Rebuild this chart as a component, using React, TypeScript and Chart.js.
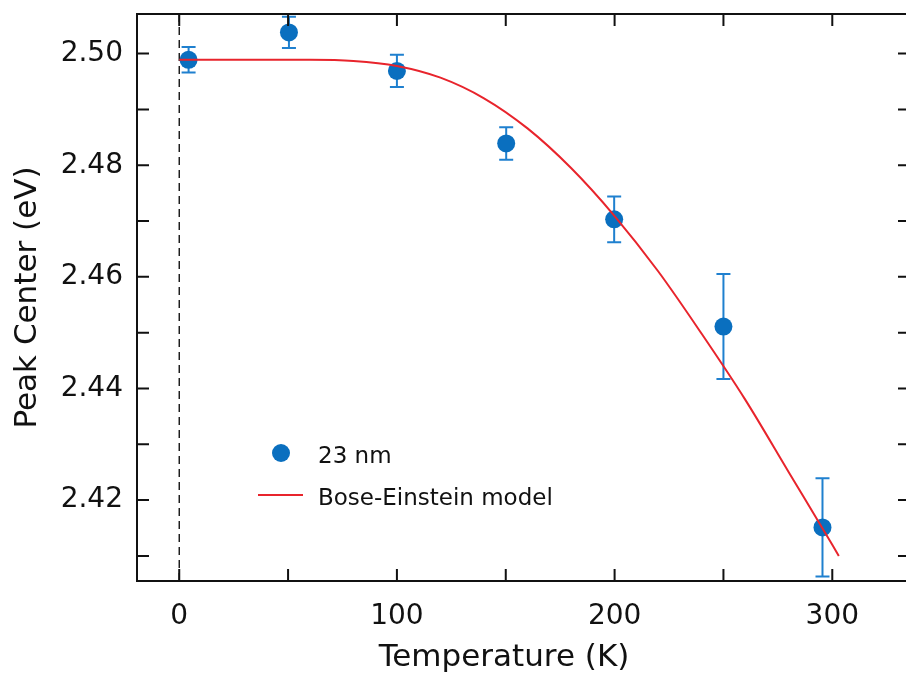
import React, { useEffect, useRef } from "react";
import { Chart, registerables } from "chart.js";
Chart.register(...registerables);

// Measured data (23 nm sample)
const temperatures = [4.3, 50.4, 100, 150.2, 199.8, 250, 295.5];
const peakCenters = [2.4989, 2.5038, 2.4969, 2.4839, 2.4703, 2.4511, 2.4151];
const peakErrors = [0.0023, 0.0028, 0.0029, 0.0029, 0.0041, 0.0094, 0.0088];

// Bose-Einstein model curve
const modelT = [0, 20, 40, 60, 80, 100, 120, 140, 160, 180, 200, 220, 240, 260, 280, 300, 303];
const modelE = [2.4989, 2.4989, 2.4989, 2.4989, 2.4987, 2.4978, 2.4957, 2.492, 2.4866, 2.4795, 2.4709, 2.461, 2.4498, 2.438, 2.425, 2.412, 2.41];

// Tick labels
const xLabels = [0, 100, 200, 300];
const yLabels = [2.42, 2.44, 2.46, 2.48, 2.5];

const xTitle = "Temperature (K)";
const yTitle = "Peak Center (eV)";
const legendLabels = ["23 nm", "Bose-Einstein model"];

const BLUE = "#0a6fbf";
const ERR_BLUE = "#1f80cf";
const RED = "#e8242c";
const FONT = "'DejaVu Sans', sans-serif";

export default function App() {
  const ref = useRef<HTMLCanvasElement | null>(null);

  useEffect(() => {
    const canvas = ref.current;
    if (!canvas) return;

    const errorBars = {
      id: "errorBars",
      beforeDatasetsDraw(chart: any) {
        const { ctx, chartArea, scales } = chart;
        const xs = scales.x;
        const ys = scales.y;
        ctx.save();
        ctx.beginPath();
        ctx.rect(chartArea.left, chartArea.top, chartArea.right - chartArea.left, chartArea.bottom - chartArea.top);
        ctx.clip();
        // dashed zero line
        const x0 = xs.getPixelForValue(0);
        ctx.strokeStyle = "#000";
        ctx.lineWidth = 1.3;
        ctx.setLineDash([8, 5]);
        ctx.beginPath();
        ctx.moveTo(x0, chartArea.top);
        ctx.lineTo(x0, chartArea.bottom);
        ctx.stroke();
        ctx.setLineDash([]);
        // error bars
        ctx.strokeStyle = ERR_BLUE;
        ctx.lineWidth = 2;
        temperatures.forEach((t, i) => {
          const px = xs.getPixelForValue(t);
          const yTop = ys.getPixelForValue(peakCenters[i] + peakErrors[i]);
          const yBot = ys.getPixelForValue(peakCenters[i] - peakErrors[i]);
          ctx.beginPath();
          ctx.moveTo(px, yTop);
          ctx.lineTo(px, yBot);
          ctx.moveTo(px - 7, yTop);
          ctx.lineTo(px + 7, yTop);
          ctx.moveTo(px - 7, yBot);
          ctx.lineTo(px + 7, yBot);
          ctx.stroke();
        });
        ctx.restore();
      },
    };

    const frame = {
      id: "frame",
      afterDraw(chart: any) {
        const { ctx, chartArea, scales } = chart;
        const { left, right, top, bottom } = chartArea;
        ctx.save();
        ctx.strokeStyle = "#111";
        ctx.lineWidth = 2;
        const tl = 12;
        ctx.beginPath();
        scales.x.ticks.forEach((tk: any) => {
          const px = scales.x.getPixelForValue(tk.value);
          ctx.moveTo(px, bottom);
          ctx.lineTo(px, bottom - tl);
          ctx.moveTo(px, top);
          ctx.lineTo(px, top + tl);
        });
        scales.y.ticks.forEach((tk: any) => {
          const py = scales.y.getPixelForValue(tk.value);
          ctx.moveTo(left, py);
          ctx.lineTo(left + tl, py);
          ctx.moveTo(right, py);
          ctx.lineTo(right - tl, py);
        });
        // frame: left, top, bottom (right edge lies outside the visible page)
        ctx.moveTo(right, top);
        ctx.lineTo(left, top);
        ctx.lineTo(left, bottom);
        ctx.lineTo(right, bottom);
        ctx.stroke();

        // x-axis title
        ctx.fillStyle = "#111";
        ctx.font = `31px ${FONT}`;
        ctx.textAlign = "center";
        ctx.textBaseline = "alphabetic";
        ctx.fillText(xTitle, 504, 666);

        // legend
        const lx = 281;
        const ly1 = 453;
        const ly2 = 495;
        ctx.fillStyle = BLUE;
        ctx.beginPath();
        ctx.arc(lx, ly1, 9, 0, Math.PI * 2);
        ctx.fill();
        ctx.strokeStyle = RED;
        ctx.lineWidth = 2;
        ctx.beginPath();
        ctx.moveTo(258, ly2);
        ctx.lineTo(303, ly2);
        ctx.stroke();
        ctx.fillStyle = "#111";
        ctx.font = `23px ${FONT}`;
        ctx.textAlign = "left";
        ctx.textBaseline = "alphabetic";
        ctx.fillText(legendLabels[0], 318, 463);
        ctx.fillText(legendLabels[1], 318, 505);
        ctx.restore();
      },
    };

    const chart = new Chart(canvas, {
      type: "scatter",
      data: {
        datasets: [
          {
            label: legendLabels[1],
            data: modelT.map((t, i) => ({ x: t, y: modelE[i] })),
            showLine: true,
            borderColor: RED,
            borderWidth: 2,
            pointRadius: 0,
            cubicInterpolationMode: "monotone",
            order: 0,
          } as any,
          {
            label: legendLabels[0],
            data: temperatures.map((t, i) => ({ x: t, y: peakCenters[i] })),
            backgroundColor: BLUE,
            borderColor: BLUE,
            pointRadius: 9,
            pointHoverRadius: 9,
            borderWidth: 0,
            order: 1,
          },
        ],
      },
      options: {
        animation: false,
        responsive: false,
        devicePixelRatio: 1,
        layout: { autoPadding: false, padding: { left: 0, right: 2, top: 14, bottom: 0 } },
        plugins: { legend: { display: false }, tooltip: { enabled: false } },
        scales: {
          x: {
            type: "linear",
            min: -19.4,
            max: 335.7,
            grid: { display: false, drawTicks: false },
            border: { display: false },
            afterFit: (s: any) => {
              s.height = 92;
              s.paddingLeft = 0;
              s.paddingRight = 0;
            },
            ticks: {
              stepSize: 50,
              includeBounds: false,
              maxRotation: 0,
              autoSkip: false,
              padding: 19,
              color: "#111",
              font: { family: FONT, size: 28 },
              callback: (v: any) => (xLabels.some((l) => Math.abs(l - v) < 1e-6) ? String(Math.round(v)) : ""),
            },
          },
          y: {
            type: "linear",
            min: 2.4055,
            max: 2.5071,
            grid: { display: false, drawTicks: false },
            border: { display: false },
            afterFit: (s: any) => {
              s.width = 137;
              s.paddingTop = 0;
              s.paddingBottom = 0;
            },
            ticks: {
              stepSize: 0.01,
              includeBounds: false,
              autoSkip: false,
              padding: 14,
              color: "#111",
              font: { family: FONT, size: 28 },
              callback: (v: any) => (yLabels.some((l) => Math.abs(l - v) < 1e-6) ? Number(v).toFixed(2) : ""),
            },
            title: {
              display: true,
              text: yTitle,
              color: "#111",
              font: { family: FONT, size: 31 },
              padding: { top: 9, bottom: 0 },
            },
          },
        },
      },
      plugins: [errorBars, frame],
    });

    return () => chart.destroy();
  }, []);

  return (
    <div
      style={{
        position: "fixed",
        left: 0,
        top: 0,
        width: 906,
        height: 673,
        overflow: "hidden",
        background: "#fff",
      }}
    >
      <canvas ref={ref} width={912} height={673} style={{ display: "block", width: 912, height: 673 }} />
    </div>
  );
}
